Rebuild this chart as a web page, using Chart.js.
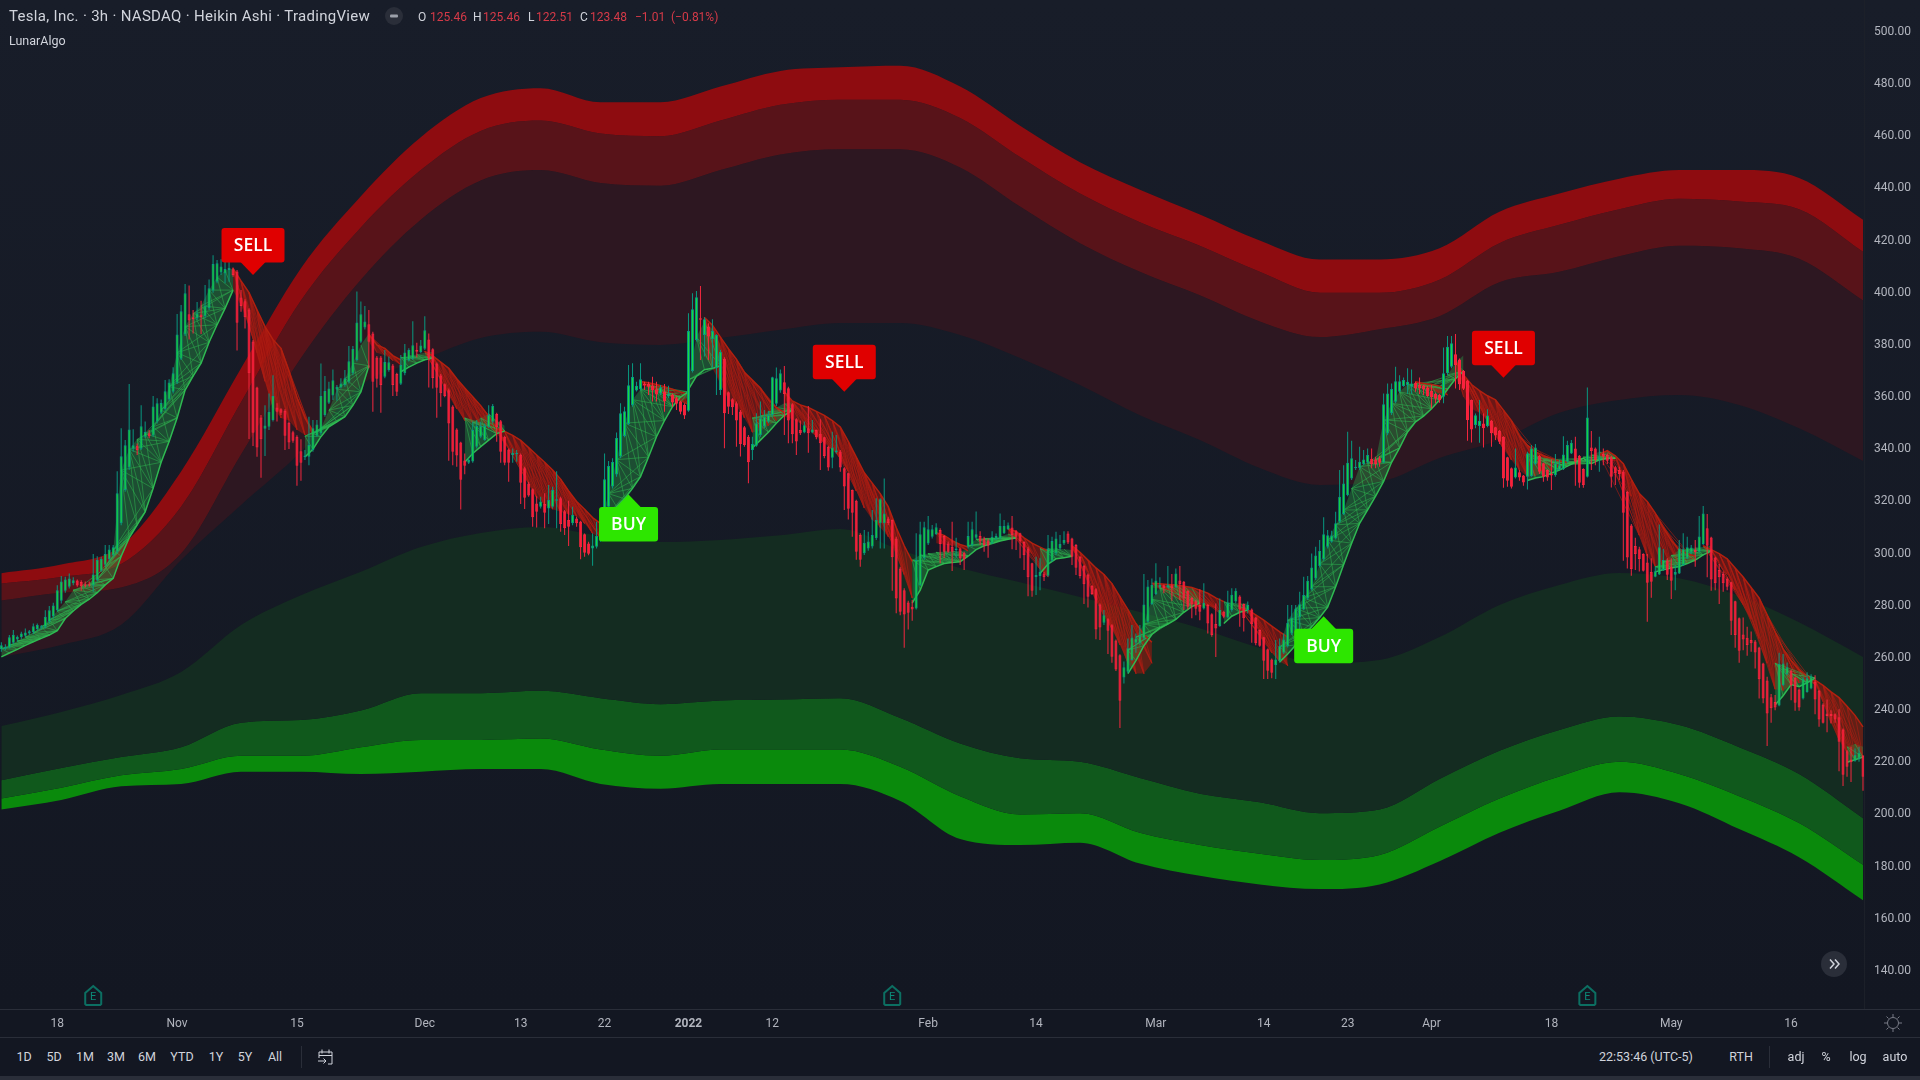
<!DOCTYPE html>
<html>
<head>
<meta charset="utf-8">
<title>Tesla, Inc. · 3h · NASDAQ · Heikin Ashi · TradingView</title>
<script src="https://cdn.jsdelivr.net/npm/chart.js@4/dist/chart.umd.min.js"></script>
<style>
html,body{margin:0;padding:0;width:1920px;height:1080px;overflow:hidden;background:#131722;font-family:Roboto,sans-serif}
#bg{position:absolute;left:0;top:0;width:1920px;height:1037px;background:linear-gradient(#181d29,#131722 97%)}
#c{position:absolute;left:0;top:0;display:block}
.t{position:absolute;white-space:nowrap;line-height:1}
.hl{position:absolute;background:#2a2e39}
.b{color:#d1d4dc;font-size:12.5px;transform:translate(-50%,-50%);top:1057px}
.r{color:#d63a48;font-size:12px;top:11px}
.w{color:#d1d4dc;font-size:12px;top:11px}
</style>
</head>
<body>
<div id="bg"></div>
<canvas id="c" width="1920" height="1037"></canvas>
<div class="hl" style="left:0;top:1009px;width:1920px;height:1px"></div>
<div class="hl" style="left:0;top:1037px;width:1920px;height:1px"></div>
<div class="hl" style="left:1864px;top:0;width:1px;height:1009px;background:#1c2029"></div>
<div class="hl" style="left:0;top:1076px;width:1920px;height:4px"></div>
<div class="t" style="left:9px;top:9px;font-size:15px;color:#d1d4dc;letter-spacing:.02em">Tesla, Inc. · 3h · NASDAQ · Heikin Ashi · TradingView</div>
<svg style="position:absolute;left:385px;top:7px" width="18" height="18"><circle cx="9" cy="9" r="9" fill="#2a2e39"/><rect x="5" y="7.5" width="8" height="3" rx="1" fill="#9ca0aa"/></svg>
<div class="t w" style="left:418px">O</div><div class="t r" style="left:430px">125.46</div>
<div class="t w" style="left:473px">H</div><div class="t r" style="left:483px">125.46</div>
<div class="t w" style="left:528px">L</div><div class="t r" style="left:536px">122.51</div>
<div class="t w" style="left:580px">C</div><div class="t r" style="left:590px">123.48</div>
<div class="t r" style="left:635px">−1.01</div><div class="t r" style="left:671px">(−0.81%)</div>
<div class="t" style="left:9px;top:35px;font-size:12.5px;color:#d1d4dc">LunarAlgo</div>
<svg style="position:absolute;left:1820px;top:950px" width="28" height="28"><circle cx="14" cy="14" r="13" fill="#2a2e39"/><path d="M10 9.5l4 4.5-4 4.5M15 9.5l4 4.5-4 4.5" fill="none" stroke="#d1d4dc" stroke-width="1.5"/></svg>
<svg style="position:absolute;left:1883px;top:1013px" width="20" height="20"><circle cx="10" cy="10" r="5.5" fill="none" stroke="#787b86"/><path d="M10 1v3M10 16v3M1 10h3M16 10h3M3.5 3.5l2 2M14.5 14.5l2 2M16.5 3.5l-2 2M5.5 14.5l-2 2" stroke="#787b86"/></svg>
<div class="t b" style="left:24px">1D</div><div class="t b" style="left:54px">5D</div><div class="t b" style="left:85px">1M</div><div class="t b" style="left:116px">3M</div><div class="t b" style="left:147px">6M</div><div class="t b" style="left:182px">YTD</div><div class="t b" style="left:216px">1Y</div><div class="t b" style="left:245px">5Y</div><div class="t b" style="left:275px">All</div>
<div class="hl" style="left:301px;top:1046px;width:1px;height:22px"></div>
<svg style="position:absolute;left:317px;top:1048px" width="18" height="18"><path d="M2 4h13v12h-4M2 4v6M5 1.5v4M12 1.5v4M2 7.5h13M1 13h8M6.5 10.5L9 13l-2.5 2.5" fill="none" stroke="#d1d4dc"/></svg>
<div class="t" style="left:1599px;top:1051px;font-size:12.5px;color:#d1d4dc">22:53:46 (UTC-5)</div>
<div class="t b" style="left:1741px">RTH</div>
<div class="hl" style="left:1769px;top:1046px;width:1px;height:22px"></div>
<div class="t b" style="left:1796px">adj</div><div class="t b" style="left:1826px">%</div><div class="t b" style="left:1858px">log</div><div class="t b" style="left:1895px">auto</div>
<script>
const barOpen=[263.3,263.5,264,265.8,267.1,267.9,268.5,269.4,269.9,271.1,
271.6,272,273.9,276,278.3,281.9,285.8,287.3,288.6,289.7,
289.1,288.3,288.3,287.8,289.8,293.4,295.7,297.8,299.4,300.7,
311.6,324.4,333,340.2,341.3,340.2,344.8,346.1,345.3,350.6,
354,355.4,359.1,362,365.5,374.7,384,391.7,390.6,390.2,
391.6,391,394,400.8,404.2,407.7,407.4,408.7,409,408.1,
398.2,396.7,393.6,381.3,363.7,352.2,347.9,348.6,351.2,356,
355.3,354.8,350.2,346.5,344.8,339.2,337,337.1,339.7,345.2,
346.1,353.1,357.8,360.6,362.9,363.7,364.6,365.9,369.1,374.2,
381.2,386.7,387.9,384.4,375.2,375.2,367.8,370.4,372.1,368.8,
365.1,369.1,374.2,374.7,378,377.3,378.5,382.1,378.3,372.9,
368.3,364.9,362.6,356.4,347.6,342.6,335.7,334.8,335.3,341,
344.8,343.5,348.6,350.5,353.5,350.7,344.8,339.9,337.8,338.2,
337.9,332.7,326.9,324.7,319.2,318,319,317.3,318,320.3,
321.2,316.2,312.9,311.6,313.5,312.3,307.4,303.9,302,302.6,
304.9,307.8,318,325.7,330.3,337.2,345.1,349.7,357,362.5,
363,365,365,364.3,363,361.4,362.1,360.2,360.9,359.5,
358.3,357,354.8,370,381.9,390.2,383.8,387,382.2,371,
362.7,374.7,361.8,359.2,357.6,354.5,348.4,344.8,339.7,341.3,
345.5,348.7,350.6,353.1,357.4,362.5,365.7,363.4,357.2,351.5,
347.4,346.4,348,346.4,347.4,345.9,344.6,341,336.7,338.8,
339.1,332.7,330.8,324.4,320.3,307.1,300.1,302,302.7,305.9,
311.6,311.6,313.5,312.9,305.8,294.3,286,281.3,279.6,279,
287.9,298.2,303.9,306.5,307.5,309,306.7,303.9,302.6,301.4,
302,300.3,302.6,303.3,306.1,306.7,305.8,305,303.9,305.5,
305.8,307.8,309.3,310,308.6,307.8,304.4,302,296.3,290.9,
291.4,292.4,291.5,297.3,300.1,302,303.9,307.7,305.8,303.3,
298.8,295.3,292,287.7,286.3,280.5,273.5,274.8,272.5,266.7,
261,252.5,254.7,259.2,265.8,265.6,267.5,273.9,280.7,284.5,
287,287.9,287,287.9,287,289.7,289.2,285.8,283,281.7,
280.3,279,280.3,276.8,273,272.2,277.7,275.5,278.4,281.6,
283.6,280.7,278.4,278.6,275.5,270.7,267.9,263.3,259.4,257.3,
258.7,262,264.6,269.4,270.7,275.5,278.6,282.8,286.3,290.5,
295.2,297.8,302.6,304.5,305.8,312.2,315.2,322.4,328.8,332.7,
332.7,334.3,334.8,336.4,336.1,336.5,334.8,346,353.8,358.2,
362,364.2,364.6,364,365.5,364.6,364.4,363.6,362.3,361.2,
360.8,360.1,369.1,371.6,376.4,374.4,370,366.3,358.9,349.3,
348.9,349.9,348.9,350.9,348.4,347.1,344.8,336.9,332.7,329.2,
331.2,329.9,329.5,329.7,334.3,337.4,334.6,332,330.5,330,
332,332.3,335.2,338.4,340.3,337.5,332.4,329.5,340.7,340.3,
336.1,338.2,337.8,336.9,333.1,332,331.5,323.6,310.8,302.9,
301.7,299.8,296.6,292.9,291.1,292,293.7,297.4,295,291.9,
292.4,295.6,298.2,300.3,301.4,300.7,303.7,309.7,306.2,298.5,
293.7,292.2,290.4,289,281.7,275.2,269,267.7,266.9,266.3,
264,257.9,251.4,244.9,243.1,241.8,249.6,253.8,255.1,252.4,
247.9,244.5,247,248.3,250.9,247.4,242.2,238.7,238.5,238.4,
237.3,232.6,224.2,221.1,220.6,221.5,222.5];
const barClose=[264.9,264.3,267.9,268.9,268.1,269.4,269.8,270.2,272.2,272.6,
272.2,275.8,278.3,280.1,286,289.3,290.1,290.5,289.8,287.8,
287.5,287.7,287.8,292,297.5,297.9,299.8,301.6,302.4,323.1,
337.3,341.5,347.6,341.5,339.7,348.8,346.6,345,356.4,357.6,
357.7,362.2,365.6,369.1,384,392.9,399.8,389.3,389.8,392.1,
390.7,395,401.7,411,411.3,410,409.1,409.6,406.8,388.5,
394.9,390.6,369.1,346.3,340.7,343.8,349.1,354.4,360.4,354.4,
354,345.2,342.6,343.3,333.7,334.8,337.6,341.6,348,349.5,
360.4,362.3,363.3,366.4,364,365.2,367.2,373.7,378.4,388.6,
391.7,389,381.2,365.9,367,364.6,373.4,373.3,364.6,362,
372.3,377.1,378,379.9,377.4,379.8,385.6,374.8,367.3,363.6,
361.5,360.4,349.9,339,337.6,328.3,333.7,335.9,347.4,348.9,
348.9,348.9,353.1,356.6,348.4,339,334.8,334.8,338.7,338.7,
327.2,321.4,322.3,313.9,316,320,315.7,320.5,324.4,320.8,
311.3,309.7,310.3,314.8,311.6,302.4,300.3,299.9,303.1,306.7,
311.3,328.5,333.6,335.1,344.3,353.8,354.6,364.5,367.7,364.3,
366.8,364.4,364,362.5,361,363.7,358.3,361.4,357.9,357.4,
354.4,352.9,385.3,393.7,398.3,389.6,389.8,383.2,385.3,383.8,
377.4,353.8,356.3,356.1,351,342,341.6,335,342,350,
351.9,352.5,353.1,367.6,367.2,369.1,361.2,351,345.7,343,
346.1,349.2,346.1,347.6,344.6,342.3,337.4,333,340.7,339.5,
333,325.7,317.2,315.7,300.7,297.6,304.2,304.6,307.1,312.9,
320.8,315.4,311.6,298.6,282.8,277.7,276.7,277.3,278.6,297.5,
307.4,310.1,309.3,309.3,310.1,303.7,300.7,300.7,300.7,302,
298.2,297.8,306.7,309.3,307.4,304.6,303.3,303,306.5,306.7,
310.6,310.6,310.9,307.1,306.5,304.6,299.4,290.9,285.8,291.8,
293,290.9,301.8,304.8,305.8,303.7,305.2,304.3,298.8,294.6,
291.4,288.3,283.5,284.5,270.9,271.7,276.4,270.4,260.5,255.6,
243.6,256.4,263.7,267.8,267.5,268.4,280.5,287.4,288,289.7,
288,286.7,287.9,286.7,292.4,288.3,282.8,279.6,280.5,278.9,
277.7,281.2,273.2,268.8,271.3,278.4,275.8,281.2,284.2,285.8,
278.6,275.2,280.3,272.9,265.6,264.7,258.9,255.1,254.3,259.4,
264.6,267.1,273.5,275.5,279,280.6,284.1,289.6,294.7,299.3,
301,307.4,307,306.9,311.6,321.8,326.9,334.8,336.5,333.3,
335.2,336.1,337.8,334.3,334.3,334.8,357.2,361.4,363.1,366.1,
366.1,366.5,365.9,365.2,363.3,363.3,362.9,360.4,359.9,359.4,
358.9,369.1,379.3,380.6,372.3,364.9,363.2,351.2,347.6,353,
350.9,348,352.9,346.1,345.4,342.9,328.8,327.9,325.6,333,
329.2,327.3,338.4,340.3,340.7,331.4,329.5,329.2,329.9,334.6,
333.9,338,341.6,342.5,335.2,327.2,326.3,352.2,339.3,335.9,
336.9,337.1,335.6,329.5,330.8,330.5,315.7,298.5,294.1,299.8,
297.9,293.4,288.8,289.2,293.2,302.4,297.5,291.9,289.6,292.9,
302,301.7,302.4,302.3,300.6,306.6,315.4,303,290.1,288.6,
290.9,288.6,287.3,274.3,268.8,262.8,267.1,265,265.6,262.1,
251.8,244.5,238.7,240.7,241,257.7,257.9,256.4,249.6,242.8,
241,251.8,252.2,252.8,244.1,236.4,235.2,237.8,237.8,236.4,
227.9,215.2,218.3,220,222.8,223.7,214.5];
const barHigh=[266,265.3,268.8,270.7,268.6,270,271.3,270.7,273.2,273.2,
272.6,278.3,279.9,281.2,287.9,291.4,291.1,292.4,290.9,290.1,
289.8,289.3,289.3,299.8,299,298.8,303.3,303.3,303.3,331.6,
348,343.5,365,347.7,342.2,356.9,350.6,347.4,360.4,359.5,
359.1,366.5,366.8,371.4,391.8,395.3,403.3,402.8,393.4,396.4,
396.9,403,405.1,414.4,412.5,412.8,412.8,413.2,409.7,408.7,
401,397.5,394,381.9,364,353.1,356.9,361.4,368.4,357.6,
355.7,355.3,350.6,347.1,345.4,343.8,339.7,352.5,351.2,351.2,
372.9,368.1,365.9,370.6,364.6,367.2,370.4,379.6,379.6,400.5,
396.6,394.9,393.4,385,375.7,375.7,378,375.5,372.7,369.3,
376.1,380.3,378.7,389.1,380.8,381.9,391,384.4,378.7,373.2,
368.8,365.2,363.3,356.9,348,342.9,338.4,336.5,350.5,351.2,
350.5,349.9,356.9,357.3,354,351.2,345.2,340.3,340.3,339.7,
338.4,333.3,327.5,325,322,321.8,323.1,326.3,325.6,331.6,
321.8,316.7,320.3,318,314.1,312.6,307.7,304.5,307.7,312.2,
312.9,338.4,335.5,336.5,346.4,357.6,356.3,372.3,373,365.9,
373,365.9,365.9,367.8,365.9,364.6,365,364.3,361.4,360.2,
358.6,357.6,392.1,399.8,400.7,402.6,390.6,388.3,389.8,384.1,
378.1,375.3,362.1,359.5,358.3,355,348.9,345.5,344.8,353.8,
358.3,355,354.8,367.8,371.3,370.6,371.9,364,357.6,351.9,
351,350.6,356.6,351.2,347.6,351.5,344.8,341.3,346.7,345.5,
339.7,333.1,331,324.6,320.6,307.8,309,308.4,316.7,321.2,
321.2,328.8,314.1,313.1,306.5,295,286.7,281.9,282.2,307.8,
312.2,312.2,314.4,311,311.6,309.7,307.1,304.6,312.2,306.1,
302.3,300.7,312.2,312.2,316.1,308.6,306.5,305.8,308.6,307.7,
315.4,312.9,311.9,314.4,309,308,304.7,302.6,296.5,298.8,
298.2,292.9,307.1,306.5,308.4,307.1,308.6,308.6,306.1,303.7,
299.1,295.6,292.4,287.9,286.7,280.9,278.4,275.2,272.9,267.1,
261.4,258.6,267.5,272.6,269.4,272.6,292.2,289.9,290.5,296.3,
290.9,288.2,295.2,292.2,294.3,295.2,289.5,286,283.5,282.2,
286.3,288.6,280.7,277.1,280.9,282.8,278.1,285.8,286.7,286.7,
284,280.9,281.6,279,275.8,270.9,268.1,263.6,259.8,266.9,
267.5,269.4,280.3,280.3,280.3,285.4,291.1,291.4,300,302.6,
305.2,313.9,309,308.8,316,332,333.9,346.7,343.3,335.9,
341,339.7,340.3,340.3,337.1,337.4,361.4,365.2,365.2,371.6,
368.4,367.5,371,370.6,365.9,367.5,364.6,364.2,364.6,361.7,
361.2,379,383.4,383.4,384.2,374.8,370.4,366.5,359.1,353.7,
358.9,353.7,355.3,351.2,348.6,347.4,345,337.1,333,340.3,
332,330.1,339,341.6,342,337.8,334.8,332.3,336.1,338.2,
335.9,345,343.3,343.5,344.8,337.8,332.7,363.7,347,340.7,
344.8,340.3,338.4,337.4,333.6,333.3,332,324.1,311.3,306.1,
302.6,300.1,299.8,298.2,295,311.2,301.8,298.2,298.2,295.6,
305.2,307.8,306.5,303.3,305.2,314.4,318.2,315.2,306.5,298.8,
296,293.1,290.9,289.2,281.9,275.5,275.5,272,270.1,266.9,
264.3,258.2,252.8,246.2,245.8,262,261.5,258.3,255.6,252.8,
248.3,252.8,254.5,253.8,253.4,247.7,242.6,244.1,240,238.7,
240.3,233,224.7,226,225.3,226,222.8];
const barLow=[262.4,263,263.6,265.3,266.2,267.2,267.9,268.8,269.1,270.4,
270.9,271.3,273.2,275.1,277.7,280.9,285,286.6,287.9,287.3,
285.8,287,287.3,285.4,289.2,293,295,296.9,298.8,300.1,
310.9,323.7,332,339,337.8,339.7,344.2,344.2,344.8,349.9,
353.5,354.8,358.6,361.4,365,374.2,383.4,382.1,384.4,389.5,
384.2,390.2,393.4,400,403.6,406.8,403.6,404.2,406.1,377.8,
392.7,386.3,343.9,341.2,337.1,329.1,337.4,347.4,350.6,350.6,
353.1,339.7,340.1,342.5,326,327.9,335.9,333.9,339,344.8,
345.4,352.5,357.3,358.9,358.6,363.3,364,365.2,368.4,373.6,
380.6,385.9,371,354.4,363.7,354,367.2,369.7,360.4,360.4,
364.6,368.4,373.6,374.2,375.2,376.8,378,363.7,363.3,352.1,
356.3,359.9,335.6,333.9,333.3,316.9,330.4,334.3,334.8,340.3,
344.2,343.3,348,349.9,342.9,334.8,333.9,327.5,334.8,335.2,
319,317.1,321.8,310.3,310,317.3,309.7,311.3,317.3,309.7,
308.4,307.1,302.9,310.9,310.3,297.8,298.8,299.4,295.3,302,
304.5,307.1,317.4,325,329.5,336.5,344.6,349.3,356.3,362.1,
362.5,362.7,360.8,358.3,358.3,360.8,354.4,359.5,356.3,355,
353.4,351.6,354.4,369.4,381.3,374.2,375.5,374.2,371,360.8,
360.8,340.4,353.5,353.1,341,337.2,341,327,335.9,341,
344.8,348,350,352.5,356.6,361.7,345.5,342.3,342.3,337.8,
345.5,346.1,338.7,346.1,343.8,332,336.5,331.8,332.7,338.4,
331.4,316.7,313.1,306.5,297.6,295,299.5,301.1,302,305.2,
302,302,310.9,285.8,277.1,276.4,263.9,270.9,274.3,278.6,
287.6,297.5,303.3,305.8,307.1,296.3,298.2,300.3,293.3,298.2,
295.6,293.7,302,302.6,305.4,303.3,300.7,298.4,303.7,305.2,
305.5,307.5,309,301.7,301.4,298.2,293.7,283.7,283.5,284.1,
286,289.5,291.1,296.9,299.4,301.4,303.3,303.7,295.6,291.8,
290.5,280.7,279.3,284.1,267.2,266.9,272.6,261.5,258.2,255,
233.2,250.2,254.1,258.9,262,264.9,266.9,273.5,280.3,284.1,
286.7,284.8,286.7,281.9,286.7,282.2,278.4,278.6,275.2,276.4,
274.5,278.6,269.4,268.1,260.4,272,275.2,275.2,277.7,280.9,
272,270.1,277.1,265.8,264.9,264.3,251.9,251.9,252.2,251.9,
258.2,261.5,264,268.8,270.1,270.7,278.3,282.2,285.8,289.9,
294.7,297.3,302,304.2,305.4,311.6,314.8,322,328.2,332,
332,333.9,334.6,332.7,332.7,333.3,334.6,345.4,353.1,357.6,
361.7,364,361.2,361.2,362,361.2,360.8,360.1,355.7,357.6,
357.8,357.6,368.4,371,363.3,362.7,362.7,343.3,342.6,348,
342.5,340.7,348.4,341,343.5,342,325.2,325.6,325,328.8,
327.9,326,324.6,329.5,333.9,330.5,327.5,327.9,324.4,329.5,
331.8,332,334.8,338.2,326,325.2,325.2,329.2,332,333.9,
331.4,333.9,334.3,325.3,326.3,328.2,297.3,294.3,291.5,293.7,
293.1,293.1,273.9,283.1,290.9,291.8,293.3,289.9,282.6,286,
292.2,295.2,297.8,299.8,295,300.3,303.3,290.9,285.8,286,
280.7,285.4,286,268.8,263.9,258.2,263,260.8,262.4,256,
244.5,242.6,226.3,235.2,240,241.5,249.2,253.4,243.8,239.8,
239.8,244.1,246.7,248,238.4,233.6,234.9,231.5,234.9,235.2,
216.6,210.9,214.5,212.5,220.2,220.2,209.1];

const bandBars=[0,15,30,45,60,75,90,105,120,135,150,165,180,195,210,225,240,255,270,285,300,315,330,345,360,375,390,405,420,435,450,466];
const redBand0=[292.5,295.8,303,331.5,371,409.4,437,459.6,474.6,478.4,473,473,479,485,486.4,487,479,464,450,439.5,430,420,412.7,412.7,417,431,438,443.7,447,447,444,428];
const redBand1=[288.5,291,296,318,358,397,425,447,462,466,461,460,466,472,474,474,467,452,438,427,418,408,400,400,405,419,426,432,436,435,432,415.7];
const redBand2=[282,285,287,300,338,375,405,428,443,447,442,441,447,453,455,455,448,433,419,408,399,389,383,386,391,404,408,414,418,417,413,397];
const redBand3=[260.4,265,272.7,297.5,318.6,339,364.6,374,382.6,385,381,380,382.6,385.8,388.4,388.4,383.8,375,364.6,353,343.5,332.8,326.3,327.5,336.6,343.5,354,358.9,360.8,357,348,335.5];
const greenBand0=[233.9,239.3,245.8,254.6,272.6,284,293,302.5,307.9,310.2,306.8,304.4,305.2,307,309.4,301.4,294.5,289,283.4,277.6,271.4,263.8,258,259.2,268,280.3,288,292.6,290.6,283.8,273.7,260.4];
const greenBand1=[213.1,217.8,222,225.8,235.2,236.2,239.9,246.5,246.5,247.4,244.6,242.3,243.7,244.1,244.6,237,227.2,221.6,220.2,214,208,204.7,200.5,201.9,213.6,224.4,232.4,237.6,234.3,225.8,215.5,198.6];
const greenBand2=[206.1,210.3,215,217.4,222.5,222.5,225.8,228.6,228.6,229.1,224.9,222.5,224.9,224.9,224.9,218.3,207,200,200.5,193,188.3,185,182.6,184.5,195.3,206.1,214.6,220.2,215.5,207,196.7,180.7];
const greenBand3=[201.9,205.6,210.8,211.7,216.4,216.4,215.5,216.4,217.4,217.4,211.7,209.9,211.7,211.7,211.7,205.2,190.6,188.3,189.2,181.2,176.5,173.2,171.4,173.2,182.1,193,201.4,208.5,204.3,194.4,183.6,167.1];

const ribbonStep=2;
const greenStarts=[0,76,100,116,150,172,188,228,242,260,282,306,320,382,414,444,462];
const greenUpper=[
[263.6,265,266.5,268,269.7,272,274.6,278,281.5,286,287.5,288.2,290,295,301.3,332,340,343.8,346,348.6,355,364,377,387,392,395,401,406,408.5,409.3],
[345,346,348,355,363,367.2,373,380,384.4],
[375.2,375.8,376.3,377,377.4],
[352,350.5,352,353.7,351,349],
[311.6,323,336,350,359,363,364.5,363,361,359.5,358,360],
[366.6,383,389,386,380],
[352,352.8,354.4,356,357.6,358],
[297.5,299.5,300,300.5,300.8,301,301,301.5],
[303,305.5,305.8,305.8,306.5,307.5,308],
[302,302,302,301.7,301.4],
[263,268,273,282.5,287,288,288,287.7,287,285],
[281.6,281.2,281,280.9],
[264.3,274.5,279,283,287.3,296,305.2,311,316.7,325,333.3,334.5,335.6,351.2,357.6,362,365,365.2,365,364.5,364,368.5,373,376],
[338.4,337,335.9,335,334,334.5,335.5,337,337.8,339,339,337.5],
[295,297,299.3,301.4,301.8,302.2,302.6,303],
[258,256,254,253.5,253,252.5],
[226,227,226]];
const greenLower=[
[260.4,261.9,263.3,264.8,266.2,267.5,268.8,270.5,275.1,278,280.5,282.5,285,288,290.5,299,306,311,316,325,335,343,352,362.7,368,373,381,387.7,394,401],
[337,340,344.8,348.6,350.5,352.5,356.8,362,372],
[369.7,371.5,373,374.3,375],
[335,338.4,341,343.5,346,347],
[305.2,312,318,321,325,329.5,337,344.8,351,356.3,360,362],
[363,368,370.5,371,372],
[340.5,343.5,346.5,350,353,355],
[281,286,293.7,295,296.2,296.6,296.9,299],
[299,301.5,303,303.9,304.8,305.5,306],
[292.4,296,298,298.4,299],
[254,259,264.7,269,271.5,273,274.8,277.5,279.7,281],
[273.2,276,277.5,278.4],
[258.5,261.5,265,268.5,272,275.5,279.5,287.3,295.8,304,311.6,316.8,322,327.7,335,340.5,346.6,350.5,352.7,355.5,358.9,363,367,370],
[328,329,329.5,330.8,332,333.5,335,336.5,334.5,335.9,336.5,336.5],
[293,293.8,294.5,295,296.2,297.5,299.5,301],
[242,245.5,249.8,249,250.5,252.3],
[220,221,222]];
const redStarts=[58,92,106,124,160,176,196,234,252,268,288,310,354,364,400,426,454];
const redUpper=[
[409.3,404.5,400,393.4,387,382,378.7,370,359.8,352,347],
[384,380,378.7,375.9,374.2],
[377.5,375.8,373.4,371,367,363.5,360.1,356.7,352.7,348],
[348,346.8,345.3,343.4,340.6,337.8,335,332,328.5,324,320,317,313.8,311.5],
[366,365.5,364.8,364,363,362,361],
[390.5,387.5,383,378.5,374.5,369.5,366.5,363.5,359,356,354],
[362,358.5,357,356,354.5,353,351,348.5,343,337,331,327,323,318,310,303,297],
[308,307,305,303.5,302.5],
[309.5,308.5,306,304,302.5,301],
[303,300.5,297.5,294.5,292,288.5,283.5,278.5,273.2,269,266],
[288.6,288.4,288.2,288,287.5,287,286,284.8,283,281.6],
[279,278.4,276.5,274.5,272.2,270,268],
[365.9,365.2,364.8,364.2,362.5],
[374,368.5,364.8,362.5,360.5,358.9,355,351,345,341.5,339,337.5,336.5,335.5,335],
[338,339.5,337.5,334.5,328.5,323,320,315.5,310,305,301.5,300,299],
[303,301.5,300,298,294.5,291,287,283,276.5,270,263.5,259,255.5,253,251],
[251.5,249.5,247,244.8,241.5,238,233.6]];
const redLower=[
[401,395,387,377,366,356,352,351,347.5,345.5,345.4],
[381,377,376,374,372.3],
[376,373.5,367.5,361.4,355.5,351,350,349,348,346],
[346,342,338.4,333,327,321.5,318.5,317,316,315,314.3,311.5,307.7,306],
[364.5,363.7,362.6,361.4,360,358.3,357],
[376,371,365,359,356.5,352,346.5,347,349,351,352.5],
[352.5,351.5,350,347.5,344.8,342.3,339.7,336.5,331.5,324,317.5,313,310,306.5,302,292,283],
[304,303.5,303,302,301],
[306.5,305.5,303.5,300,294,291],
[301.4,298,293,282,276,271,265,258,254,254,258],
[287,286.5,286,285,282,279.6,279.5,280,279,276],
[278.5,277,273,267,262,258.5,257],
[364.6,364,363,361.5,360.8],
[368,360,355.5,354,351,345,340,335.9,332,329.5,329.8,331,332,333,334],
[337,337,335.5,330,322,307,299,295,294.5,295,295.8,296.5,297],
[302,300.5,297,292,286,280.5,275,267.5,258,248,247.5,249.5,250.5,250.8,249.8],
[249.8,243,235,228.5,223.5,221,222]];

const priceTicks=[500,480,460,440,420,400,380,360,340,320,300,280,260,240,220,200,180,160,140];
const timeBars=[14,44,74,106,130,151,172,193,232,259,289,316,337,358,388,418,448];
const timeLabels=['18','Nov','15','Dec','13','22','2022','12','Feb','14','Mar','14','23','Apr','18','May','16'];
const signalBars=[63,157,211,331,376];
const signalPrices=[406.8,322.7,362,276,367.4];
const signalLabels=['SELL','BUY','SELL','BUY','SELL'];
const earningsBars=[23,223,397];

const UP_BORDER='#089981',UP_FILL='#18e03a',DN_BORDER='#f5273f',DN_FILL='#ff1c3a';
const isUp=barClose.map((c,i)=>c>=barOpen[i]);
const wicks=barHigh.map((h,i)=>({x:i,y:[barLow[i],h]}));
const bodies=barOpen.map((o,i)=>({x:i,y:[o,barClose[i]]}));

function lineDs(data,color,width,order){return {type:'line',data,borderColor:color,borderWidth:width,pointRadius:0,fill:false,spanGaps:false,tension:0,order};}
function bandSeries(v){return v.map((y,i)=>({x:bandBars[i],y}));}
function bandDs(v,color,fill){return {type:'line',data:bandSeries(v),borderWidth:0,pointRadius:0,cubicInterpolationMode:'monotone',fill:fill?'+1':false,backgroundColor:color,order:30};}
function knots(s,arr){return arr.map((y,j)=>({x:s+ribbonStep*j,y}));}
function hatchSets(starts,up,lo,steps,color,order){
  const sets=[];
  starts.forEach((s,n)=>{
    up[n].forEach((y,j)=>{
      steps.forEach(k=>{
        if(j+k<lo[n].length){
          sets.push(lineDs([{x:s+ribbonStep*j,y},{x:s+ribbonStep*(j+k),y:lo[n][j+k]}],color,1,order));
        }
      });
    });
  });
  return sets;
}
function fillSets(starts,up,lo,fillColor,order){
  const sets=[];
  starts.forEach((s,n)=>{
    const a=lineDs(knots(s,up[n]),'transparent',0,order),b=lineDs(knots(s,lo[n]),'transparent',0,order);
    a.fill='+1';a.backgroundColor=fillColor;
    sets.push(a,b);
  });
  return sets;
}
function edgeSets(starts,arr,color,width,order){return starts.map((s,n)=>lineDs(knots(s,arr[n]),color,width,order));}

const signalPlugin={
  id:'signals',
  afterDatasetsDraw(chart){
    const {ctx,scales:{x,y}}=chart;
    ctx.save();
    earningsBars.forEach(b=>{
      const cx=x.getPixelForValue(b);
      ctx.beginPath();
      ctx.moveTo(cx,986);ctx.lineTo(cx+8,993);ctx.lineTo(cx+8,1004);ctx.lineTo(cx+7,1005);ctx.lineTo(cx-7,1005);ctx.lineTo(cx-8,1004);ctx.lineTo(cx-8,993);ctx.closePath();
      ctx.strokeStyle='#0c6f62';ctx.lineWidth=2;ctx.stroke();
      ctx.fillStyle='#0c8a78';ctx.font="11px Roboto";ctx.textAlign='center';ctx.textBaseline='middle';
      ctx.fillText('E',cx,997);
    });
    signalBars.forEach((b,i)=>{
      const cx=x.getPixelForValue(b),tip=y.getPixelForValue(signalPrices[i]);
      const sell=signalLabels[i]==='SELL';
      const w=sell?63:59,h=34.5,pw=13,ph=12.5;
      const top=sell?tip-ph-h:tip+ph;
      ctx.fillStyle=sell?'#e00000':'#2de600';
      ctx.beginPath();
      ctx.roundRect(cx-w/2,top,w,h,3);ctx.fill();
      ctx.beginPath();
      if(sell){ctx.moveTo(cx-pw,top+h-1);ctx.lineTo(cx,tip);ctx.lineTo(cx+pw,top+h-1);}
      else{ctx.moveTo(cx-pw,top+1);ctx.lineTo(cx,tip);ctx.lineTo(cx+pw,top+1);}
      ctx.closePath();ctx.fill();
      ctx.fillStyle='#ffffff';ctx.font="600 17.5px 'Open Sans'";ctx.textAlign='center';ctx.textBaseline='middle';
      ctx.fillText(signalLabels[i],cx,top+h/2+1);
    });
    ctx.restore();
  }
};

Chart.defaults.font.family='Roboto';
new Chart(document.getElementById('c'),{
  type:'bar',
  plugins:[signalPlugin],
  data:{datasets:[
    bandDs(redBand0,'#8e0c10',true),
    bandDs(redBand1,'#581319',true),
    bandDs(redBand2,'#2d1721',true),
    bandDs(redBand3,'transparent',false),
    bandDs(greenBand0,'#142c21',true),
    bandDs(greenBand1,'#10591c',true),
    bandDs(greenBand2,'#0a8a0c',true),
    bandDs(greenBand3,'transparent',false),
    ...fillSets(greenStarts,greenUpper,greenLower,'rgba(40,150,70,.42)',9),
    ...fillSets(redStarts,redUpper,redLower,'rgba(160,24,14,.55)',9),
    ...hatchSets(greenStarts,greenUpper,greenLower,[1,2,3,4,5],'rgba(46,178,78,.55)',6),
    ...hatchSets(redStarts,redUpper,redLower,[1,2,3,4,5],'rgba(175,28,18,.6)',7),
    ...edgeSets(greenStarts,greenLower,'#2fba52',1.5,5),
    ...edgeSets(redStarts,redUpper,'#b3200f',1.5,5),
    {type:'bar',data:wicks,grouped:false,barThickness:1,inflateAmount:0,backgroundColor:isUp.map(u=>u?UP_BORDER:DN_BORDER),order:2},
    {type:'bar',data:bodies,grouped:false,barThickness:3,borderWidth:1,borderSkipped:false,inflateAmount:0,backgroundColor:isUp.map(u=>u?UP_FILL:DN_FILL),borderColor:isUp.map(u=>u?UP_BORDER:DN_BORDER),order:1}
  ]},
  options:{
    responsive:false,animation:false,devicePixelRatio:1,
    layout:{padding:0},
    plugins:{legend:{display:false},tooltip:{enabled:false}},
    scales:{
      x:{type:'linear',min:-0.333,max:466.25,offset:false,
        grid:{display:false,drawTicks:false},border:{display:false},
        afterBuildTicks(s){s.ticks=timeBars.map(value=>({value}));},
        afterFit(s){s.height=28;s.paddingLeft=0;s.paddingRight=0;s.paddingTop=0;s.paddingBottom=0;},
        ticks:{autoSkip:false,maxRotation:0,padding:8,color:'#b2b5be',
          font:c=>({size:12,family:'Roboto',weight:timeLabels[c.index]==='2022'?'700':'400'}),
          callback:(v,i)=>timeLabels[i]}},
      y:{type:'linear',position:'right',min:125.45,max:512.19,
        grid:{display:false,drawTicks:false},border:{display:false},
        afterBuildTicks(s){s.ticks=priceTicks.map(value=>({value}));},
        afterFit(s){s.width=56;s.paddingTop=0;s.paddingBottom=0;s.paddingLeft=0;s.paddingRight=0;},
        ticks:{padding:10,color:'#b2b5be',font:{size:12,family:'Roboto'},callback:v=>v.toFixed(2)}}
    }
  }
});
</script>
</body>
</html>
